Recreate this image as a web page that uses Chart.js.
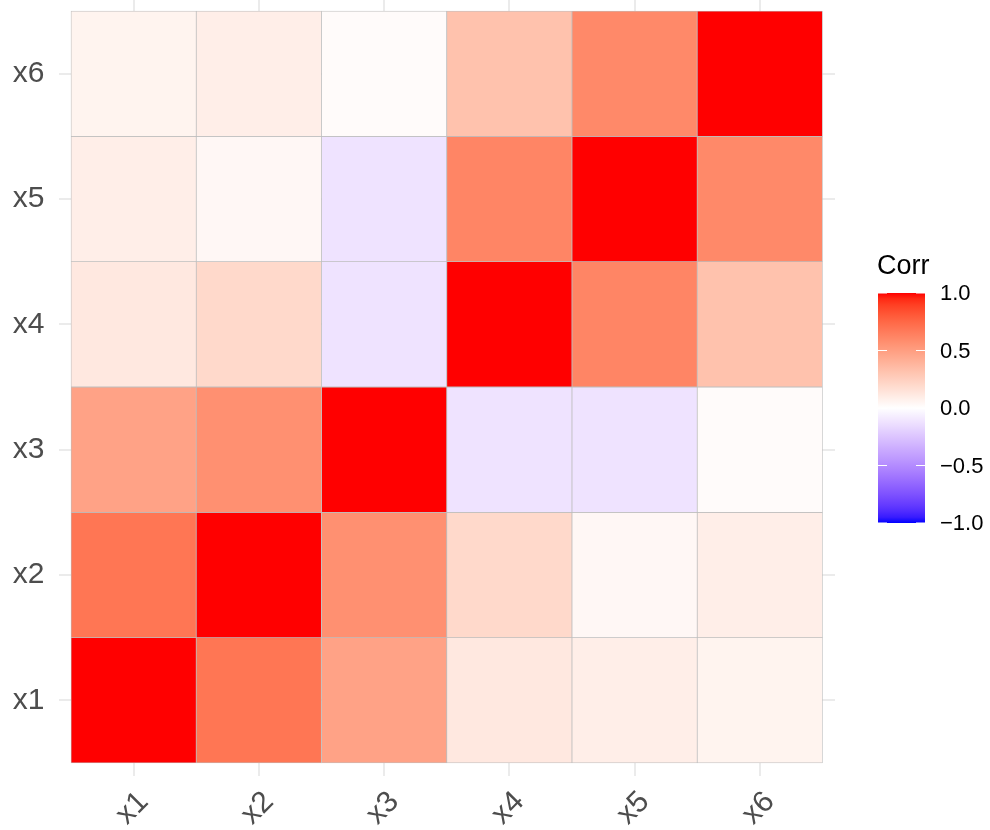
<!DOCTYPE html>
<html>
<head>
<meta charset="utf-8">
<script src="https://cdn.jsdelivr.net/npm/chart.js@4.4.1/dist/chart.umd.min.js"></script>
<style>
  body { margin: 0; background: #fff; }
  canvas { display: block; }
</style>
</head>
<body>
<canvas id="myChart" width="990" height="830"></canvas>
<script>
// variable names (x axis left->right, y axis bottom->top)
var vars = ["x1", "x2", "x3", "x4", "x5", "x6"];

// correlation rows (row = y label, columns = x1..x6)
var rowX1 = [1.00, 0.69, 0.48, 0.12, 0.09, 0.06];
var rowX2 = [0.69, 1.00, 0.57, 0.20, 0.04, 0.09];
var rowX3 = [0.48, 0.57, 1.00, -0.12, -0.12, 0.02];
var rowX4 = [0.12, 0.20, -0.12, 1.00, 0.62, 0.32];
var rowX5 = [0.09, 0.04, -0.12, 0.62, 1.00, 0.60];
var rowX6 = [0.06, 0.09, 0.02, 0.32, 0.60, 1.00];
var corr = [rowX1, rowX2, rowX3, rowX4, rowX5, rowX6];

var legendBreaks = [1, 0.5, 0, -0.5, -1];

// colour scale: blue - white - red, interpolated in CIELAB like ggplot
function toLab(r, g, b) {
  function lin(c) { c /= 255; return c <= 0.04045 ? c / 12.92 : Math.pow((c + 0.055) / 1.055, 2.4); }
  var R = lin(r), G = lin(g), B = lin(b);
  var X = (0.4124 * R + 0.3576 * G + 0.1805 * B) / 0.95047;
  var Y = 0.2126 * R + 0.7152 * G + 0.0722 * B;
  var Z = (0.0193 * R + 0.1192 * G + 0.9505 * B) / 1.08883;
  function f(t) { return t > 0.008856 ? Math.cbrt(t) : 7.787 * t + 16 / 116; }
  var fx = f(X), fy = f(Y), fz = f(Z);
  return [116 * fy - 16, 500 * (fx - fy), 200 * (fy - fz)];
}
function fromLab(L, a, b) {
  var fy = (L + 16) / 116, fx = fy + a / 500, fz = fy - b / 200;
  function fi(t) { return t > 0.206893 ? t * t * t : (t - 16 / 116) / 7.787; }
  var X = fi(fx) * 0.95047, Y = fi(fy), Z = fi(fz) * 1.08883;
  var R = 3.2406 * X - 1.5372 * Y - 0.4986 * Z;
  var G = -0.9689 * X + 1.8758 * Y + 0.0415 * Z;
  var B = 0.0557 * X - 0.2040 * Y + 1.0570 * Z;
  function g(c) {
    c = Math.min(1, Math.max(0, c));
    c = c <= 0.0031308 ? 12.92 * c : 1.055 * Math.pow(c, 1 / 2.4) - 0.055;
    return Math.round(Math.min(1, Math.max(0, c)) * 255);
  }
  return "rgb(" + g(R) + "," + g(G) + "," + g(B) + ")";
}
var labWhite = toLab(255, 255, 255), labRed = toLab(255, 0, 0), labBlue = toLab(0, 0, 255);
function corrColor(v) {
  var end = v >= 0 ? labRed : labBlue, t = Math.min(1, Math.abs(v));
  return fromLab(labWhite[0] + (end[0] - labWhite[0]) * t,
                 labWhite[1] + (end[1] - labWhite[1]) * t,
                 labWhite[2] + (end[2] - labWhite[2]) * t);
}

// one floating bar per cell
var cells = [], cellColors = [];
corr.forEach(function (row, r) {
  row.forEach(function (v, c) {
    cells.push({ x: c + 1, y: [r + 0.5, r + 1.5] });
    cellColors.push(corrColor(v));
  });
});

var fixedTicks = function (scale) {
  scale.ticks = vars.map(function (v, i) { return { value: i + 1 }; });
};
// keep the plot panel where the reference has it
var noPadding = function (scale) {
  scale.paddingTop = 0; scale.paddingBottom = 0;
  scale.paddingLeft = 0; scale.paddingRight = 0;
};

// colour bar legend
var colorBar = {
  id: "colorBar",
  afterDraw: function (chart) {
    var ctx = chart.ctx;
    var x = 878, top = 293, w = 47, h = 230;
    var grad = ctx.createLinearGradient(0, top, 0, top + h);
    for (var i = 0; i <= 40; i++) {
      grad.addColorStop(i / 40, corrColor(1 - i / 20));
    }
    ctx.save();
    ctx.fillStyle = grad;
    ctx.fillRect(x, top, w, h);
    ctx.strokeStyle = "#fff";
    ctx.lineWidth = 1;
    ctx.font = "22px 'Liberation Sans', Arial, sans-serif";
    ctx.fillStyle = "#000";
    ctx.textAlign = "left";
    ctx.textBaseline = "middle";
    legendBreaks.forEach(function (b) {
      var y = top + (1 - b) / 2 * h;
      ctx.beginPath();
      ctx.moveTo(x, y); ctx.lineTo(x + 9, y);
      ctx.moveTo(x + w - 9, y); ctx.lineTo(x + w, y);
      ctx.stroke();
      var txt = b.toFixed(1).replace("-", "\u2212");
      ctx.fillText(txt, 940, y + 1);
    });
    ctx.font = "27px 'Liberation Sans', Arial, sans-serif";
    ctx.fillText("Corr", 877, 267);
    ctx.restore();
  }
};

var ctx = document.getElementById("myChart").getContext("2d");
var chart = new Chart(ctx, {
  type: "bar",
  data: {
    datasets: [{
      label: "Corr",
      data: cells,
      backgroundColor: cellColors,
      borderColor: "#BEBEBE",
      borderWidth: 0.75,
      borderSkipped: false,
      barPercentage: 1,
      categoryPercentage: 1
    }]
  },
  options: {
    responsive: false,
    animation: false,
    layout: { padding: { top: 0, right: 155, bottom: 0, left: 0 } },
    plugins: { legend: { display: false }, tooltip: { enabled: false } },
    scales: {
      x: {
        type: "linear",
        position: "bottom",
        offset: false,
        min: 0.4,
        max: 6.6,
        afterBuildTicks: fixedTicks,
        afterFit: function (scale) { scale.height = 54.5; noPadding(scale); },
        grid: { color: "#EBEBEB", lineWidth: 2, drawTicks: false, offset: false },
        border: { display: false },
        ticks: {
          color: "#4D4D4D",
          font: { family: "'Liberation Sans', Arial, sans-serif", size: 30 },
          minRotation: 45,
          maxRotation: 45,
          padding: 9,
          labelOffset: 10,
          callback: function (v) { return vars[v - 1]; }
        }
      },
      y: {
        type: "linear",
        min: 0.4,
        max: 6.588,
        afterBuildTicks: fixedTicks,
        afterFit: function (scale) { scale.width = 58.5; noPadding(scale); },
        grid: { color: "#EBEBEB", lineWidth: 2, drawTicks: false },
        border: { display: false },
        ticks: {
          color: "#4D4D4D",
          font: { family: "'Liberation Sans', Arial, sans-serif", size: 30 },
          padding: 14,
          callback: function (v) { return vars[v - 1]; }
        }
      }
    }
  },
  plugins: [colorBar]
});
</script>
</body>
</html>
